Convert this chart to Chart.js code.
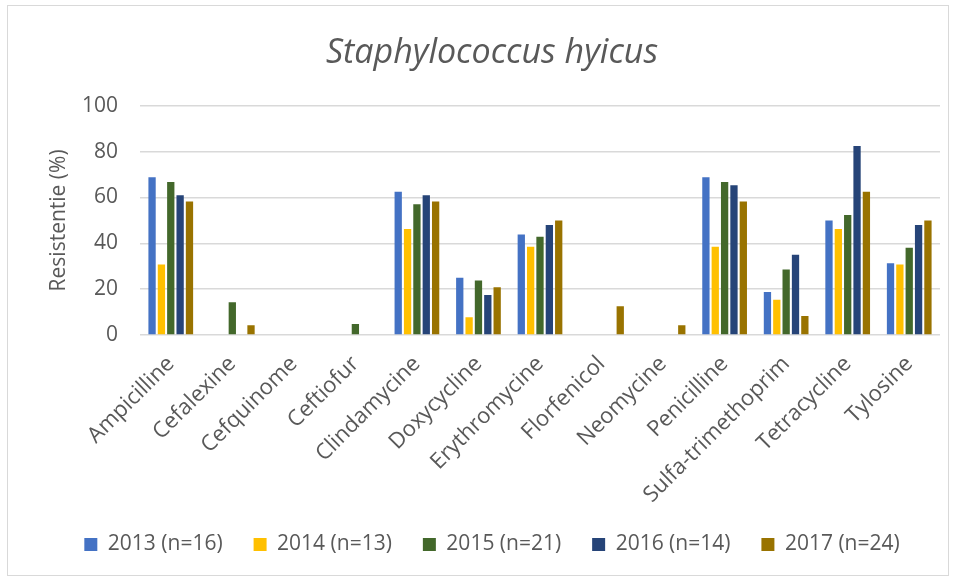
<!DOCTYPE html>
<html>
<head>
<meta charset="utf-8">
<script src="https://cdn.jsdelivr.net/npm/chart.js@4/dist/chart.umd.min.js"></script>
<style>
  html, body { margin: 0; padding: 0; background: #fff; }
  #wrap { position: absolute; left: 7px; top: 5px; width: 942px; height: 571px; box-sizing: border-box; border: 1px solid #d9d9d9; }
</style>
</head>
<body>
<div id="wrap"><canvas id="resChart"></canvas></div>
<script>
var antibiotics = ['Ampicilline', 'Cefalexine', 'Cefquinome', 'Ceftiofur', 'Clindamycine', 'Doxycycline',
    'Erythromycine', 'Florfenicol', 'Neomycine', 'Penicilline', 'Sulfa-trimethoprim', 'Tetracycline', 'Tylosine'];

var y2013 = [68.8, 0, 0, 0, 62.5, 25.0, 43.8, 0, 0, 68.8, 18.8, 50.0, 31.3];
var y2014 = [30.8, 0, 0, 0, 46.2, 7.7, 38.5, 0, 0, 38.5, 15.4, 46.2, 30.8];
var y2015 = [66.7, 14.3, 0, 4.8, 57.1, 23.8, 42.9, 0, 0, 66.7, 28.6, 52.4, 38.1];
var y2016 = [61.0, 0, 0, 0, 61.0, 17.5, 48.0, 0, 0, 65.3, 35.0, 82.5, 48.0];
var y2017 = [58.3, 4.2, 0, 0, 58.3, 20.8, 50.0, 12.5, 4.2, 58.3, 8.3, 62.5, 50.0];

var yTicks = [0, 20, 40, 60, 80, 100];

var grey = '#595959';
var fontName = '"Open Sans", "Noto Sans", sans-serif';

function series(label, data, color) {
    return {
        label: label,
        data: data,
        backgroundColor: color,
        borderColor: color,
        borderWidth: 0,
        barPercentage: 0.78,
        categoryPercentage: 0.76
    };
}

var ctx = document.getElementById('resChart').getContext('2d');
var resChart = new Chart(ctx, {
    type: 'bar',
    data: {
        labels: antibiotics,
        datasets: [
            series('2013 (n=16)', y2013, '#4472c4'),
            series('2014 (n=13)', y2014, '#ffc000'),
            series('2015 (n=21)', y2015, '#43682b'),
            series('2016 (n=14)', y2016, '#264478'),
            series('2017 (n=24)', y2017, '#997300')
        ]
    },
    options: {
        responsive: true,
        maintainAspectRatio: false,
        animation: false,
        layout: {
            padding: { left: 36, right: 8, top: 0, bottom: 10 }
        },
        plugins: {
            title: {
                display: true,
                text: 'Staphylococcus hyicus',
                color: grey,
                font: { family: fontName, size: 34, style: 'italic', weight: 'normal' },
                padding: { top: 27, bottom: 32 }
            },
            legend: {
                position: 'bottom',
                labels: {
                    color: grey,
                    font: { family: fontName, size: 21 },
                    boxWidth: 13,
                    boxHeight: 13,
                    padding: 31
                }
            },
            tooltip: { enabled: false }
        },
        scales: {
            x: {
                grid: { display: false, drawTicks: false },
                border: { display: false },
                afterFit: function(scale) {
                    // room for the slanted names, as in the original
                    scale.height = 168;
                },
                ticks: {
                    color: grey,
                    font: { family: fontName, size: 22 },
                    minRotation: 45,
                    maxRotation: 45,
                    autoSkip: false,
                    padding: 16
                }
            },
            y: {
                min: 0,
                max: 100,
                afterBuildTicks: function(axis) {
                    axis.ticks = yTicks.map(function(v) { return { value: v }; });
                },
                afterFit: function(scale) {
                    scale.width = 96;
                },
                grid: { color: '#d9d9d9', lineWidth: 1.5, drawTicks: false },
                border: { display: false },
                ticks: {
                    color: grey,
                    font: { family: fontName, size: 21 },
                    padding: 22
                },
                title: {
                    display: true,
                    text: 'Resistentie (%)',
                    color: grey,
                    font: { family: fontName, size: 21 },
                    padding: { top: 2, bottom: 0 }
                }
            }
        }
    }
});
</script>
</body>
</html>
